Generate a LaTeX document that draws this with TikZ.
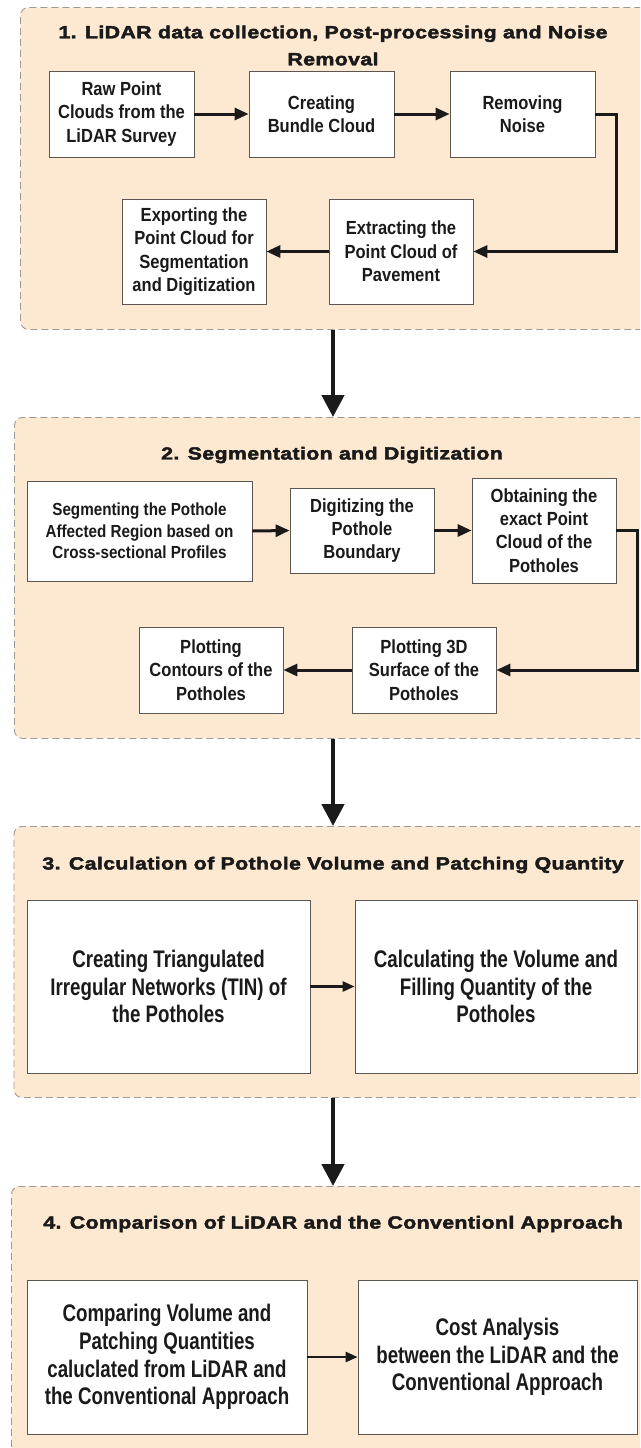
\documentclass[tikz,border=0pt]{standalone}
\usepackage{fontspec}
\setmainfont{Liberation Sans}
\newfontfamily\boxfont[FakeStretch=0.87]{Liberation Sans Bold}
\newfontfamily\wideboxfont[FakeStretch=0.78]{Liberation Sans Bold}
\newfontfamily\headfont[FakeStretch=1.22,LetterSpace=2,FakeBold=2.5]{Liberation Sans Bold}
\usetikzlibrary{arrows.meta}
\definecolor{panelfill}{HTML}{FDE8D1}
\definecolor{panelline}{HTML}{9C9A98}
\definecolor{boxline}{HTML}{5C5650}
\definecolor{inkcol}{HTML}{1A1A1A}
\tikzset{
  panel/.style={draw=panelline, fill=panelfill, dash pattern=on 7pt off 4pt,
    line width=0.9pt, rounded corners=8pt, anchor=north west, inner sep=0pt},
  stepbox/.style={draw=boxline, fill=white, line width=0.8pt, align=center,
    inner sep=2pt, text=inkcol, font=\boxfont\fontsize{19}{23.3}\selectfont},
  smallbox/.style={stepbox, font=\boxfont\fontsize{17.5}{21.7}\selectfont},
  largebox/.style={stepbox, font=\wideboxfont\fontsize{24}{27.6}\selectfont},
  heading/.style={align=center, text=inkcol, inner sep=0pt,
    font=\headfont\fontsize{17.5}{27}\selectfont},
  flow/.style={draw=inkcol, line width=3pt, -{Triangle[width=12pt,length=14pt]}},
  thinflow/.style={draw=inkcol, line width=2.5pt, -{Triangle[width=10pt,length=12pt]}},
  bigflow/.style={draw=inkcol, line width=4.5pt, -{Triangle[width=22pt,length=22pt]}}
}
\begin{document}
\begin{tikzpicture}[x=1pt, y=-1pt]
\clip (0,0) rectangle (640,1448);
\fill[white] (0,0) rectangle (640,1448);

% ---------- stage 1 ----------
\node[panel, minimum width=640, minimum height=322] (p1) at (20,7) {};
\node[heading] (t1) at (333,45.5) {1. LiDAR data collection, Post-processing and Noise\\Removal};
\node[stepbox, minimum width=145, minimum height=86] (raw) at (121.5,114) {Raw Point\\Clouds from the\\LiDAR Survey};
\node[stepbox, minimum width=145, minimum height=86] (bundle) at (321.5,114) {Creating\\Bundle Cloud};
\node[stepbox, minimum width=145, minimum height=86] (noise) at (522.5,114) {Removing\\Noise};
\node[stepbox, minimum width=144, minimum height=105] (export) at (194,251.5) {Exporting the\\Point Cloud for\\Segmentation\\and Digitization};
\node[stepbox, minimum width=144, minimum height=105] (extract) at (401,251.5) {Extracting the\\Point Cloud of\\Pavement};
\draw[flow] (raw.east) -- (bundle.west);
\draw[flow] (bundle.east) -- (noise.west);
\draw[flow] (noise.east) -- ++(21,0) |- (extract.east);
\draw[flow] (extract.west) -- (export.east);

% ---------- stage 2 ----------
\node[panel, minimum width=646, minimum height=321] (p2) at (14,417) {};
\node[heading] (t2) at (332,455) {2. Segmentation and Digitization};
\node[smallbox, minimum width=225, minimum height=100] (segment) at (139.5,531) {Segmenting the Pothole\\Affected Region based on\\Cross-sectional Profiles};
\node[stepbox, minimum width=144, minimum height=85] (digit) at (362,530.5) {Digitizing the\\Pothole\\Boundary};
\node[stepbox, minimum width=144, minimum height=105] (obtain) at (544,530.5) {Obtaining the\\exact Point\\Cloud of the\\Potholes};
\node[stepbox, minimum width=144, minimum height=86] (contour) at (211,670) {Plotting\\Contours of the\\Potholes};
\node[stepbox, minimum width=144, minimum height=86] (surface) at (424,670) {Plotting 3D\\Surface of the\\Potholes};
\draw[flow] (segment.east) -- (digit.west);
\draw[flow] (digit.east) -- (obtain.west);
\draw[flow] (obtain.east) -- ++(21,0) |- (surface.east);
\draw[flow] (surface.west) -- (contour.east);

% ---------- stage 3 ----------
\node[panel, minimum width=647, minimum height=271] (p3) at (13.5,826) {};
\node[heading] (t3) at (333,865) {3. Calculation of Pothole Volume and Patching Quantity};
\node[largebox, minimum width=283, minimum height=173] (tin) at (168.5,986.5) {Creating Triangulated\\Irregular Networks (TIN) of\\the Potholes};
\node[largebox, minimum width=282, minimum height=173] (volume) at (496,986.5) {Calculating the Volume and\\Filling Quantity of the\\Potholes};
\draw[thinflow] (tin.east) -- (volume.west);

% ---------- stage 4 ----------
\node[panel, minimum width=649, minimum height=290] (p4) at (11,1186) {};
\node[heading] (t4) at (333,1224) {4. Comparison of LiDAR and the Conventionl Approach};
\node[largebox, minimum width=280, minimum height=154] (compare) at (167,1357) {Comparing Volume and\\Patching Quantities\\caluclated from LiDAR and\\the Conventional Approach};
\node[largebox, minimum width=279, minimum height=154] (cost) at (497.5,1357) {Cost Analysis\\between the LiDAR and the\\Conventional Approach};
\draw[thinflow] (compare.east) -- (cost.west);

% ---------- links between stages ----------
\draw[bigflow] (p1.south -| t1) -- (p2.north -| t1);
\draw[bigflow] (p2.south -| t1) -- (p3.north -| t1);
\draw[bigflow] (p3.south -| t1) -- (p4.north -| t1);
\end{tikzpicture}
\end{document}
